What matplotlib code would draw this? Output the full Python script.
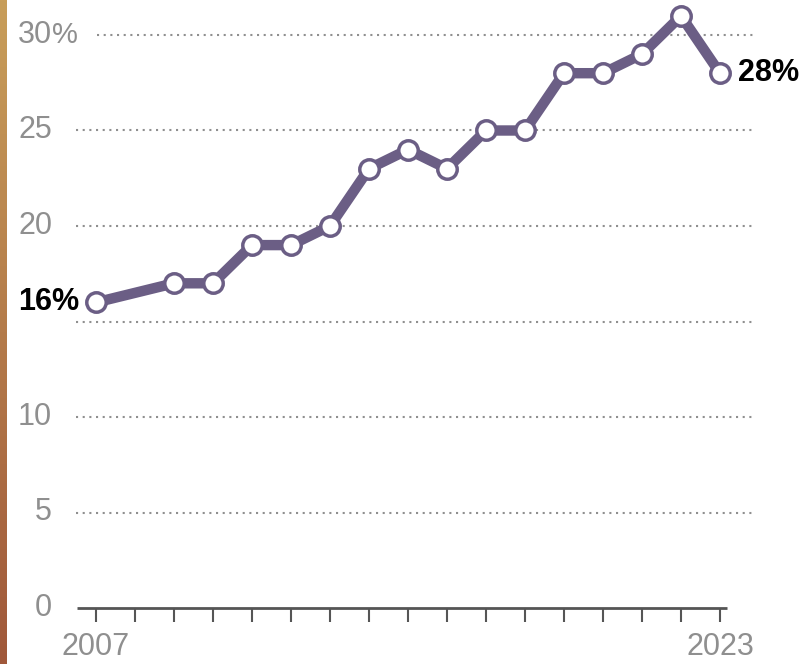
import numpy as np
import matplotlib.pyplot as plt

years = [2007, 2009, 2010, 2011, 2012, 2013, 2014, 2015, 2016, 2017, 2018, 2019, 2020, 2021, 2022, 2023]
values = [16, 17, 17, 19, 19, 20, 23, 24, 23, 25, 25, 28, 28, 29, 31, 28]
grid_vals = [5, 10, 15, 20, 25, 30]
ytick_labels = ['0', '5', '10', '', '20', '25', '30']
tick_years = list(range(2007, 2024))

PURPLE = '#6b5e85'
GRAY = '#8f8f8f'
FONT = 'Liberation Sans'

W, H = 802, 664
fig = plt.figure(figsize=(W / 100, H / 100), dpi=100)

# pixel mapping: x = 96 + 39*(year-2007), y = 608 - 19.1*value
def xd(px):
    return 2007 + (px - 96) / 39.0

def yd(py):
    return (608 - py) / 19.1

# left gradient strip
strip = fig.add_axes([0, 0, 7 / W, 1])
grad = np.linspace(0, 1, 256).reshape(-1, 1)
c_top = np.array([200, 158, 90]) / 255
c_bot = np.array([160, 88, 58]) / 255
img = c_top[None, None, :] * (1 - grad[:, :, None]) + c_bot[None, None, :] * grad[:, :, None]
strip.imshow(img, aspect='auto', extent=[0, 1, 0, 1])
strip.axis('off')

ax = fig.add_axes([60 / W, 0, 710 / W, 1])
ax.set_xlim(xd(60), xd(770))
ax.set_ylim(yd(664), yd(0))
ax.axis('off')

# dotted gridlines
for g in grid_vals:
    x0 = xd(97) if g == 30 else xd(76)
    ax.hlines(g, x0, xd(756), colors=GRAY, linestyles=(0, (1, 2.2)), lw=1.5, clip_on=False)

# baseline and ticks
ax.hlines(0, xd(77), xd(727), colors='#555555', lw=2, clip_on=False)
ax.vlines(tick_years, 0, yd(622), colors='#555555', lw=1.5, clip_on=False)

# y labels
for v, lab in zip([0, 5, 10, 15, 20, 25, 30], ytick_labels):
    if lab:
        ax.text(xd(52), v, lab, ha='right', va='center', fontsize=22, color=GRAY, family=FONT)
ax.text(xd(52), 30, '%', ha='left', va='center', fontsize=21, color=GRAY, family=FONT)

# x labels
for yr in (tick_years[0], tick_years[-1]):
    ax.text(yr, yd(647), str(yr), ha='center', va='center', fontsize=22, color=GRAY, family=FONT)

# line
ax.plot(years, values, color=PURPLE, lw=7.5, solid_capstyle='round', solid_joinstyle='round',
        marker='o', markersize=14, markerfacecolor='white', markeredgecolor=PURPLE,
        markeredgewidth=2.5, clip_on=False, zorder=5)

# end labels
ax.text(xd(79), values[0], f'{values[0]}%', ha='right', va='center', fontsize=22,
        fontweight='bold', color='black', family=FONT,
        bbox=dict(facecolor='white', edgecolor='none', pad=1), zorder=6)
ax.text(xd(738), values[-1], f'{values[-1]}%', ha='left', va='center', fontsize=22,
        fontweight='bold', color='black', family=FONT, zorder=6)

fig.savefig('out.png', dpi=100, facecolor='white')
